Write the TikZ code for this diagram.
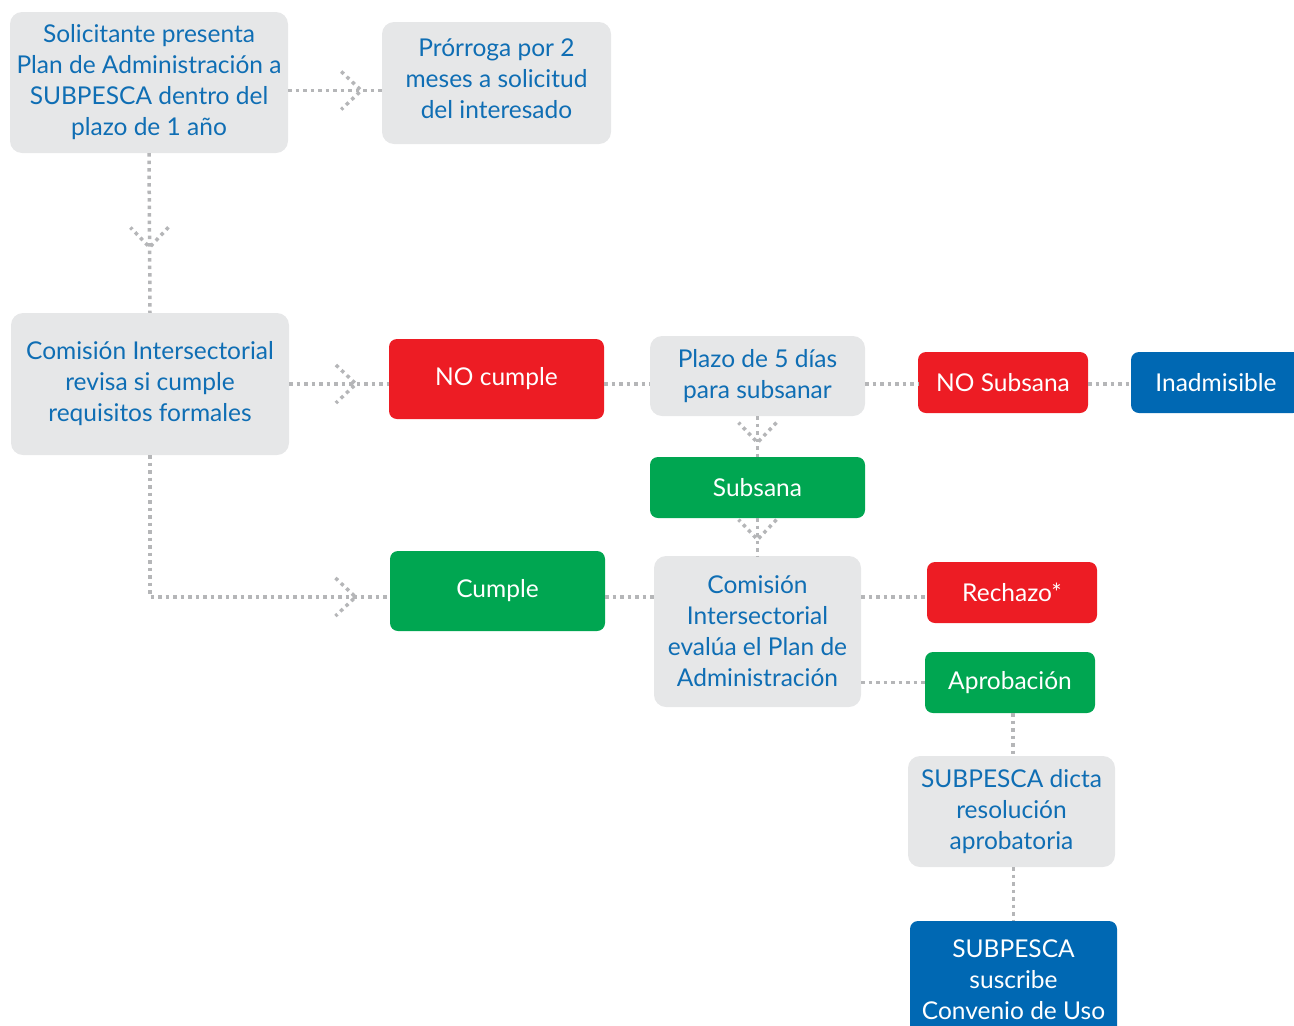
\documentclass[tikz,border=0pt]{standalone}
\usepackage{fontspec}
\setmainfont{Lato}
\usetikzlibrary{decorations.markings}

\definecolor{boxgray}{HTML}{E6E7E8}
\definecolor{boxred}{HTML}{ED1C24}
\definecolor{boxgreen}{HTML}{00A651}
\definecolor{boxblue}{HTML}{0068B3}
\definecolor{textblue}{HTML}{0F6EB4}
\definecolor{linkgray}{HTML}{B5B6B8}

\tikzset{
	box/.style={align=center, inner sep=0pt, font=\fontsize{24.5}{31}\selectfont},
	graybox/.style={box, fill=boxgray, text=textblue, rounded corners=12pt},
	redbox/.style={box, fill=boxred, text=white, rounded corners=8pt},
	greenbox/.style={box, fill=boxgreen, text=white, rounded corners=8pt},
	bluebox/.style={box, fill=boxblue, text=white, rounded corners=8pt},
	link/.style={draw=linkgray, line width=3.5pt, dash pattern=on 3.5pt off 4pt},
	chev/.style={postaction={decorate, decoration={markings,
		mark=at position #1 with {\draw[link] (-20pt,19pt) -- (0pt,0pt) -- (-20pt,-19pt);}}}}
}

\begin{document}
\begin{tikzpicture}[x=1pt,y=-1pt]

	\useasboundingbox (0,0) rectangle (1294,1026);

	% boxes
	\node[graybox, minimum width=278pt, minimum height=141pt] (sol) at (149,82.5)
		{Solicitante presenta\\Plan de Administración a\\SUBPESCA dentro del\\plazo de 1 año};
	\node[graybox, minimum width=229pt, minimum height=122pt] (prorroga) at (496.5,83)
		{Prórroga por 2\\meses a solicitud\\del interesado\rule[-9pt]{0pt}{0pt}};
	\node[graybox, minimum width=278pt, minimum height=142pt] (revisa) at (150,384)
		{Comisión Intersectorial\\revisa si cumple\\requisitos formales};
	\node[redbox, minimum width=215pt, minimum height=80pt] (nocumple) at (496.5,379) {NO cumple};
	\node[graybox, minimum width=215pt, minimum height=80pt] (plazo) at (757.5,376)
		{Plazo de 5 días\\para subsanar};
	\node[redbox, minimum width=170pt, minimum height=61pt] (nosubsana) at (1003,382.5) {NO Subsana};
	\node[bluebox, minimum width=170pt, minimum height=61pt] (inadm) at (1216,382.5) {Inadmisible};
	\node[greenbox, minimum width=215pt, minimum height=61pt] (subsana) at (757.5,487.5) {Subsana};
	\node[greenbox, minimum width=215pt, minimum height=80pt] (cumple) at (497.5,591) {Cumple};
	\node[graybox, minimum width=207pt, minimum height=151pt] (evalua) at (757.5,631.5)
		{Comisión\\Intersectorial\\evalúa el Plan de\\Administración};
	\node[redbox, minimum width=170pt, minimum height=61pt] (rechazo) at (1012,592.5) {Rechazo*};
	\node[greenbox, minimum width=170pt, minimum height=61pt] (aprob) at (1010,682.5) {Aprobación};
	\node[graybox, minimum width=207pt, minimum height=111pt] (dicta) at (1011.5,811.5)
		{SUBPESCA dicta\\resolución\\aprobatoria};
	\node[bluebox, minimum width=207pt, minimum height=118pt] (suscribe) at (1013.5,980)
		{SUBPESCA\\suscribe\\Convenio de Uso};

	% rows of the links
	\coordinate (row) at (0,384);
	\coordinate (rowb) at (0,597);

	% links
	\draw[link, chev=0.78] ([yshift=-8pt]sol.east) -- ([yshift=-8pt]sol.east -| prorroga.west);
	\draw[link, chev=0.59] (sol.south) -- (revisa.north);
	\draw[link, chev=0.67] (revisa.east) -- (nocumple.west |- row);
	\draw[link, chev=0.91] (revisa.south) |- (cumple.west |- rowb);
	\draw[link] (nocumple.east |- row) -- (plazo.west |- row);
	\draw[link] (plazo.east |- row) -- (nosubsana.west |- row);
	\draw[link] (nosubsana.east |- row) -- (inadm.west |- row);
	\draw[link, chev=0.65] (plazo.south) -- (subsana.north);
	\draw[link, chev=0.57] (subsana.south) -- (evalua.north);
	\draw[link] (cumple.east |- rowb) -- (evalua.west |- rowb);
	\draw[link] (evalua.east |- rowb) -- (rechazo.west |- rowb);
	\draw[link] (evalua.east |- aprob.west) -- (aprob.west);
	\draw[link] ([xshift=3pt]aprob.south) -- ([xshift=3pt]aprob.south |- dicta.north);
	\draw[link] ([xshift=2pt]dicta.south) -- ([xshift=2pt]dicta.south |- suscribe.north);

\end{tikzpicture}
\end{document}
